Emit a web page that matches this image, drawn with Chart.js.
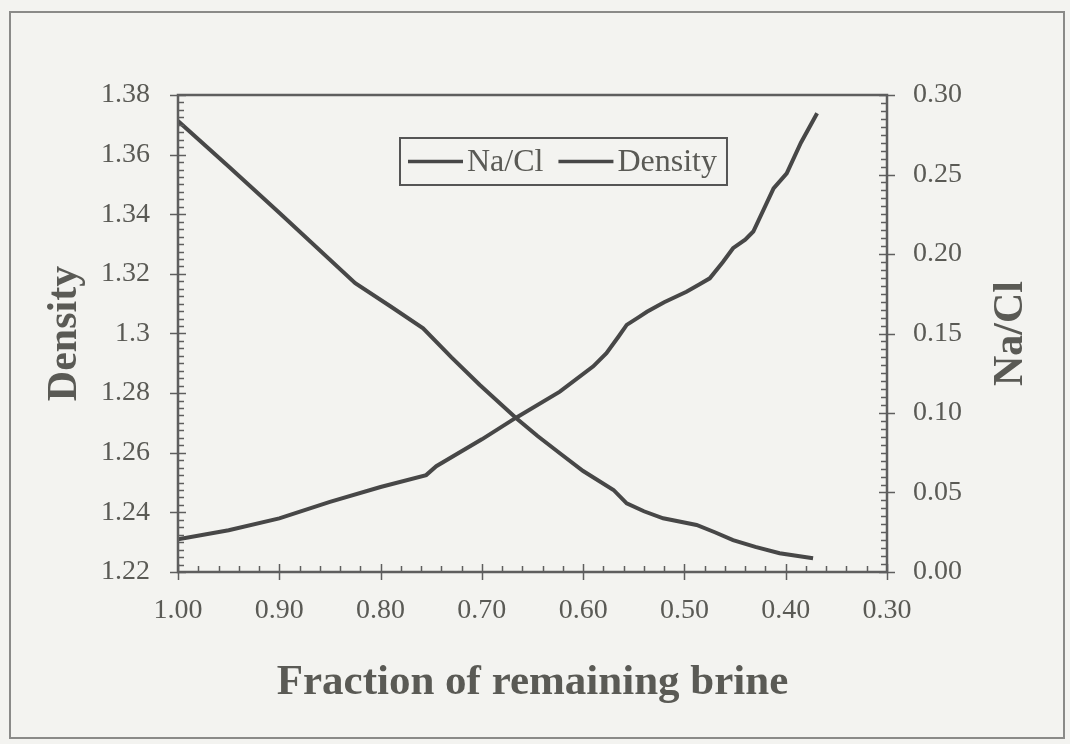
<!DOCTYPE html>
<html>
<head>
<meta charset="utf-8">
<script src="https://cdn.jsdelivr.net/npm/chart.js@4.4.1/dist/chart.umd.min.js"></script>
<style>
  html, body { margin: 0; padding: 0; background: #f3f3f0; }
  #wrap { position: relative; width: 1070px; height: 744px; }
</style>
</head>
<body>
<div id="wrap"><canvas id="brine"></canvas></div>
<script>
  // Na/Cl ratio (right axis) vs fraction of brine left
  const fracNaCl = [1.00, 0.95, 0.90, 0.825, 0.79, 0.758, 0.73, 0.702, 0.666, 0.645,
    0.623, 0.60, 0.57, 0.557, 0.54, 0.521, 0.488, 0.47, 0.452, 0.43, 0.406, 0.373];
  const naCl = [0.2836, 0.2550, 0.2260, 0.1816, 0.1670, 0.1533, 0.1350, 0.1176, 0.0967, 0.0855,
    0.0747, 0.0635, 0.0516, 0.0432, 0.0382, 0.0338, 0.0296, 0.0250, 0.0201, 0.0158, 0.0118, 0.0086];

  // brine density (left axis)
  const fracDensity = [1.00, 0.95, 0.90, 0.85, 0.80, 0.755, 0.745, 0.70, 0.667, 0.623, 0.59,
    0.577, 0.565, 0.557, 0.545, 0.537, 0.52, 0.498, 0.485, 0.475, 0.462, 0.452, 0.44, 0.432,
    0.412, 0.399, 0.385, 0.369];
  const density = [1.2310, 1.2340, 1.2380, 1.2435, 1.2485, 1.2525, 1.2555, 1.2645, 1.2716, 1.2805,
    1.2890, 1.2934, 1.2990, 1.3029, 1.3055, 1.3073, 1.3105, 1.3140, 1.3165, 1.3185, 1.3240,
    1.3286, 1.3315, 1.3342, 1.3487, 1.3537, 1.3640, 1.3739];

  const seriesLabels = ['Na/Cl', 'Density'];

  const ink = '#474747';
  const textInk = '#5a5a55';
  const serif = "'Liberation Serif', 'DejaVu Serif', serif";

  const toXY = (xs, ys) => xs.map((x, i) => ({ x: x, y: ys[i] }));

  // background and outer frame of the figure
  const paperPlugin = {
    id: 'paper',
    beforeDraw(chart) {
      const ctx = chart.ctx;
      ctx.save();
      ctx.fillStyle = '#f3f3f0';
      ctx.fillRect(0, 0, chart.width, chart.height);
      ctx.strokeStyle = '#8a8a88';
      ctx.lineWidth = 2;
      ctx.strokeRect(10, 12, chart.width - 16, chart.height - 18);
      ctx.restore();
    }
  };

  // major ticks cross the axis, minor ticks point inward
  function tickMarks(ctx, scale, major, minorCount, side, area) {
    const n = Math.round((scale.max - scale.min) / major) * minorCount;
    const step = major / minorCount;
    for (let i = 0; i <= n; i++) {
      const v = scale.min + i * step;
      const p = Math.round(scale.getPixelForValue(v)) + 0.5;
      const isMajor = i % minorCount === 0;
      const out = isMajor ? 8 : 0;
      const inn = isMajor ? 8 : 6;
      ctx.beginPath();
      if (side === 'bottom') {
        ctx.moveTo(p, area.bottom + out);
        ctx.lineTo(p, area.bottom - inn);
      } else if (side === 'left') {
        ctx.moveTo(area.left - out, p);
        ctx.lineTo(area.left + inn, p);
      } else {
        ctx.moveTo(area.right + out, p);
        ctx.lineTo(area.right - inn, p);
      }
      ctx.stroke();
    }
  }

  const framePlugin = {
    id: 'frame',
    afterDatasetsDraw(chart) {
      const { ctx, chartArea: a, scales } = chart;
      ctx.save();
      ctx.strokeStyle = '#5e5e5e';
      ctx.lineWidth = 2.5;
      ctx.strokeRect(a.left, a.top, a.right - a.left, a.bottom - a.top);
      ctx.lineWidth = 1.5;
      tickMarks(ctx, scales.x, 0.1, 5, 'bottom', a);
      tickMarks(ctx, scales.y, 0.02, 8, 'left', a);
      tickMarks(ctx, scales.y1, 0.05, 10, 'right', a);

      // right axis title, read bottom to top
      ctx.fillStyle = textInk;
      ctx.font = 'bold 42px ' + serif;
      ctx.textAlign = 'center';
      ctx.textBaseline = 'middle';
      ctx.translate(1011, (a.top + a.bottom) / 2);
      ctx.rotate(-Math.PI / 2);
      ctx.fillText('Na/Cl', 0, 0);
      ctx.restore();
    }
  };

  // boxed legend inside the plot
  const boxLegendPlugin = {
    id: 'boxLegend',
    afterDraw(chart) {
      const { ctx, chartArea: a } = chart;
      const left = a.left + 222;
      const top = a.top + 43;
      const h = 47;
      const sample = 55;
      ctx.save();
      ctx.font = '32px ' + serif;
      ctx.textBaseline = 'middle';
      let x = left + 8;
      const cy = top + h / 2 + 1;
      chart.data.datasets.forEach((ds, i) => {
        ctx.strokeStyle = ds.borderColor;
        ctx.lineWidth = 3.5;
        ctx.beginPath();
        ctx.moveTo(x, cy - 1);
        ctx.lineTo(x + sample, cy - 1);
        ctx.stroke();
        x += sample + 4;
        ctx.fillStyle = textInk;
        ctx.fillText(ds.label, x, cy);
        x += ctx.measureText(ds.label).width + (i < chart.data.datasets.length - 1 ? 15 : 10);
      });
      ctx.strokeStyle = '#555';
      ctx.lineWidth = 2;
      ctx.strokeRect(left, top, x - left, h);
      ctx.restore();
    }
  };

  new Chart(document.getElementById('brine'), {
    type: 'line',
    data: {
      datasets: [
        {
          label: seriesLabels[0],
          data: toXY(fracNaCl, naCl),
          yAxisID: 'y1',
          borderColor: ink,
          borderWidth: 4,
          pointRadius: 0,
          tension: 0
        },
        {
          label: seriesLabels[1],
          data: toXY(fracDensity, density),
          yAxisID: 'y',
          borderColor: ink,
          borderWidth: 4,
          pointRadius: 0,
          tension: 0
        }
      ]
    },
    options: {
      responsive: true,
      maintainAspectRatio: false,
      animation: false,
      layout: { padding: { top: 95, left: 0, right: 0, bottom: 0 } },
      plugins: {
        legend: { display: false },
        tooltip: { enabled: false }
      },
      scales: {
        x: {
          type: 'linear',
          reverse: true,
          min: 0.3,
          max: 1.0,
          afterFit(scale) { scale.height = 172; },
          grid: { display: false },
          border: { display: false },
          ticks: {
            stepSize: 0.1,
            padding: 14,
            color: textInk,
            font: { family: serif, size: 28 },
            maxRotation: 0,
            callback: (v) => v.toFixed(2)
          },
          title: {
            display: true,
            text: 'Fraction of remaining brine',
            color: textInk,
            font: { family: serif, size: 43, weight: 'bold' },
            padding: { top: 0, bottom: 35 }
          }
        },
        y: {
          position: 'left',
          min: 1.22,
          max: 1.38,
          afterFit(scale) { scale.width = 178; },
          grid: { display: false },
          border: { display: false },
          ticks: {
            stepSize: 0.02,
            padding: 20,
            color: textInk,
            font: { family: serif, size: 28 },
            callback: (v) => String(Number(v.toFixed(2)))
          },
          title: {
            display: true,
            text: 'Density',
            color: textInk,
            font: { family: serif, size: 42, weight: 'bold' },
            padding: { top: 40, bottom: 0 }
          }
        },
        y1: {
          position: 'right',
          min: 0,
          max: 0.3,
          afterFit(scale) { scale.width = 183; },
          grid: { display: false },
          border: { display: false },
          ticks: {
            stepSize: 0.05,
            padding: 18,
            color: textInk,
            font: { family: serif, size: 28 },
            callback: (v) => v.toFixed(2)
          }
        }
      }
    },
    plugins: [paperPlugin, framePlugin, boxLegendPlugin]
  });
</script>
</body>
</html>
